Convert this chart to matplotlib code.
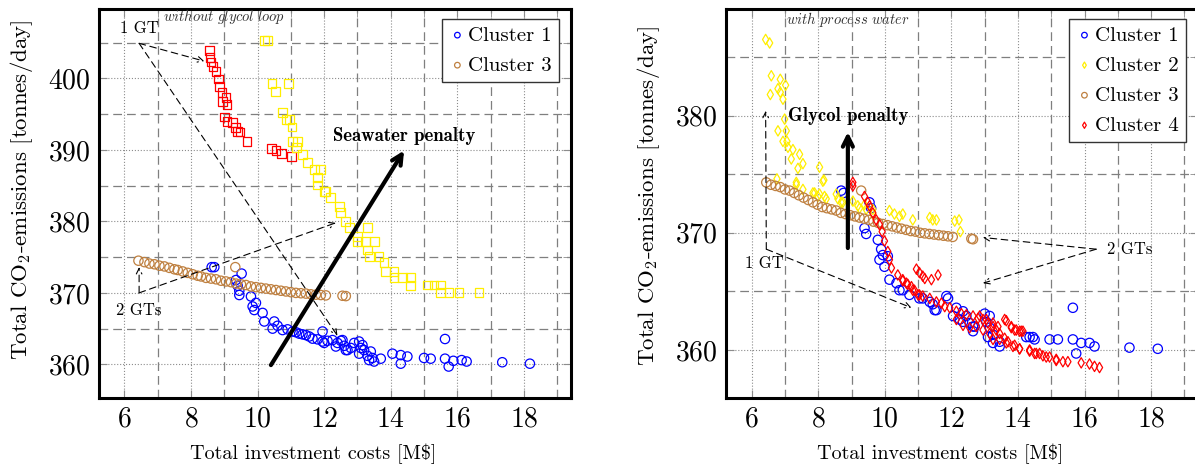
import matplotlib
matplotlib.use("Agg")
import matplotlib.pyplot as plt
from matplotlib.ticker import MultipleLocator
import numpy as np

plt.rcParams['font.family'] = ['cmr10', 'DejaVu Serif']
plt.rcParams['mathtext.fontset'] = 'cm'
plt.rcParams['axes.formatter.use_mathtext'] = True

BLUE = '#0000ff'
YELLOW = '#ffee00'
BROWN = '#bf8040'
RED = '#ff0000'

# ---- left panel: without glycol loop ----
left_c1 = [(8.62, 373.6), (8.70, 373.6), (9.52, 372.7), (9.35, 371.8), (9.40, 371.0), (9.45, 370.3),
           (9.45, 369.7), (9.80, 369.5), (9.85, 368.1), (9.95, 368.6), (9.90, 367.6), (10.15, 367.2),
           (10.2, 366.0), (10.5, 366.0), (10.45, 365.0), (10.6, 365.4), (10.75, 364.8), (10.9, 364.9),
           (11.05, 364.6), (11.15, 364.5), (11.25, 364.3), (11.35, 364.2), (11.45, 364.1), (11.55, 363.9),
           (11.65, 363.6), (11.8, 363.5), (11.95, 364.6), (11.95, 363.2), (12.0, 363.0), (12.1, 363.3),
           (12.25, 363.4), (12.35, 362.5), (12.4, 363.0), (12.5, 363.3), (12.55, 363.4), (12.6, 362.6),
           (12.65, 362.0), (12.7, 362.0), (12.8, 362.3), (12.9, 363.0), (13.05, 363.2), (13.05, 361.5),
           (13.1, 362.3), (13.15, 362.7), (13.2, 362.0), (13.3, 361.2), (13.35, 360.6), (13.4, 361.8),
           (13.45, 360.9), (13.5, 360.4), (13.7, 360.8), (14.05, 361.5), (14.3, 361.3), (14.5, 361.1),
           (14.3, 360.1), (15.0, 360.9), (15.2, 360.8), (15.63, 363.55), (15.63, 360.8), (15.74, 359.7),
           (15.88, 360.5), (16.13, 360.6), (16.28, 360.4), (17.35, 360.3), (18.18, 360.1)]

left_c3 = [(6.42, 374.5), (6.6, 374.3), (6.75, 374.1), (6.9, 374.0), (7.05, 373.8), (7.2, 373.7),
           (7.35, 373.5), (7.5, 373.3), (7.6, 373.2), (7.75, 373.0), (7.9, 372.8), (8.05, 372.6),
           (8.2, 372.4), (8.3, 372.3), (8.45, 372.1), (8.6, 372.0), (8.75, 371.9), (8.9, 371.7),
           (9.05, 371.6), (9.2, 371.5), (9.35, 371.3), (9.5, 371.2), (9.65, 371.1), (9.8, 370.9),
           (9.95, 370.8), (10.1, 370.7), (10.25, 370.6), (10.4, 370.5), (10.55, 370.4), (10.7, 370.3),
           (10.85, 370.2), (11.0, 370.1), (11.15, 370.0), (11.3, 369.95), (11.45, 369.9), (11.6, 369.8),
           (11.75, 369.75), (11.9, 369.7), (12.05, 369.65), (12.55, 369.6), (12.65, 369.55), (9.33, 373.6)]

left_red = [(8.55, 403.9), (8.57, 402.9), (8.6, 402.3), (8.66, 401.7), (8.75, 401.0), (8.83, 399.9),
            (8.85, 398.9), (8.93, 398.0), (9.05, 397.3), (8.95, 396.8), (9.08, 396.3), (9.0, 394.6),
            (9.08, 394.0), (9.25, 393.8), (9.33, 393.1), (9.4, 392.6), (9.47, 392.5), (9.68, 391.2),
            (10.42, 390.2), (10.55, 389.9), (10.72, 389.5), (11.02, 389.1)]

left_yellow = [(10.2, 405.3), (10.3, 405.3), (10.43, 399.3), (10.53, 398.2), (10.92, 399.3), (10.75, 395.2),
               (10.85, 394.3), (10.95, 394.3), (11.03, 393.2), (11.05, 391.2), (11.2, 391.2), (11.18, 390.3),
               (11.35, 389.4), (11.5, 388.2), (11.7, 387.3), (11.9, 387.3), (11.8, 386.1), (11.8, 385.1),
               (12.0, 384.2), (12.05, 384.2), (12.2, 383.3), (12.45, 382.1), (12.5, 381.2), (12.65, 380.0),
               (12.75, 379.1), (13.0, 377.9), (13.0, 377.2), (13.3, 379.1), (13.25, 377.2), (13.3, 376.0),
               (13.5, 377.2), (13.35, 375.1), (13.65, 375.1), (13.8, 374.2), (13.85, 373.0), (14.1, 373.0),
               (14.1, 372.1), (14.35, 372.1), (14.6, 372.1), (14.6, 371.0), (15.1, 371.1), (15.3, 371.1),
               (15.5, 371.1), (15.5, 370.0), (15.75, 370.0), (16.05, 370.0), (16.65, 370.0)]

# ---- right panel: with process water ----
right_c1 = [(8.69, 373.6), (8.76, 373.4), (9.54, 372.6), (9.59, 372.1), (9.39, 370.4), (9.44, 369.9),
            (9.79, 369.4), (9.89, 368.6), (9.94, 368.1), (9.84, 367.7), (9.99, 367.1), (10.09, 368.0),
            (10.14, 366.0), (10.35, 365.7), (10.44, 365.1), (10.54, 365.1), (10.74, 364.7), (11.04, 364.4),
            (11.14, 364.4), (11.35, 364.1), (11.44, 363.9), (11.5, 363.4), (11.55, 363.4), (11.85, 364.6),
            (11.9, 364.4), (12.05, 362.9), (12.15, 363.6), (12.25, 362.6), (12.35, 363.3), (12.35, 362.4),
            (12.45, 362.9), (12.55, 362.3), (12.65, 362.0), (12.7, 362.0), (12.65, 361.6), (13.0, 363.1),
            (13.05, 362.4), (13.1, 361.1), (13.15, 362.9), (13.15, 361.9), (13.25, 361.3), (13.25, 360.6),
            (13.45, 360.7), (13.45, 360.3), (14.25, 361.1), (14.35, 361.1), (14.45, 361.1), (14.5, 360.9),
            (14.95, 360.9), (15.2, 360.9), (15.65, 363.6), (15.65, 360.9), (15.75, 359.7), (15.9, 360.6),
            (16.15, 360.6), (16.3, 360.3), (17.35, 360.2), (18.2, 360.1)]

right_c2 = [(6.42, 386.5), (6.54, 386.2), (6.59, 383.4), (6.56, 381.8), (6.79, 382.3), (6.86, 383.1),
            (7.02, 382.6), (6.94, 381.4), (6.86, 382.0), (6.99, 379.7), (6.79, 378.7), (7.04, 378.7),
            (6.94, 377.8), (7.06, 377.8), (7.09, 377.3), (7.24, 377.1), (7.44, 376.7), (7.19, 376.3),
            (7.54, 375.9), (7.39, 375.5), (8.04, 375.6), (8.17, 374.5), (6.76, 374.6), (7.34, 374.3),
            (7.54, 373.7), (7.84, 373.4), (7.99, 373.1), (8.24, 372.9), (8.54, 373.3), (8.59, 372.9),
            (7.34, 374.1), (8.14, 374.4), (7.89, 373.4), (8.04, 373.3), (8.19, 373.1), (8.69, 372.6),
            (8.74, 372.6), (9.04, 372.7), (9.19, 372.3), (9.24, 372.1), (9.39, 372.4), (9.44, 372.0),
            (9.64, 372.0), (9.64, 371.6), (10.14, 371.9), (10.29, 371.6), (10.44, 371.4), (10.54, 371.6),
            (10.84, 371.1), (11.35, 371.3), (11.44, 371.1), (11.55, 371.1), (12.1, 371.0), (12.23, 371.1),
            (12.27, 370.1)]

right_c3 = [(6.44, 374.3), (6.58, 374.1), (6.72, 374.0), (6.86, 373.9), (7.0, 373.7), (7.14, 373.6),
            (7.28, 373.4), (7.42, 373.2), (7.56, 373.0), (7.7, 372.8), (7.84, 372.6), (7.98, 372.4),
            (8.12, 372.2), (8.26, 372.1), (8.4, 372.0), (8.54, 371.9), (8.68, 371.7), (8.82, 371.6),
            (8.96, 371.5), (9.1, 371.4), (9.24, 371.3), (9.38, 371.2), (9.52, 371.1), (9.66, 370.95),
            (9.8, 370.85), (9.94, 370.75), (10.08, 370.65), (10.22, 370.55), (10.36, 370.45), (10.5, 370.35),
            (10.64, 370.25), (10.78, 370.15), (10.92, 370.1), (11.06, 370.0), (11.2, 369.95), (11.34, 369.9),
            (11.48, 369.85), (11.62, 369.8), (11.76, 369.75), (11.9, 369.7), (12.04, 369.65), (12.6, 369.5),
            (12.65, 369.45), (9.29, 373.6)]

right_c4 = [(9.04, 374.3), (9.04, 374.0), (9.39, 373.1), (9.49, 372.6), (9.54, 372.3), (9.64, 371.7),
            (9.74, 371.1), (9.84, 370.7), (9.92, 370.1), (9.99, 369.3), (10.09, 368.4), (10.14, 367.7),
            (10.2, 367.0), (10.39, 366.4), (10.54, 366.0), (10.65, 365.7), (10.8, 365.4), (10.89, 365.1),
            (11.04, 364.7), (10.95, 366.9), (11.04, 366.6), (11.14, 366.3), (11.2, 366.1), (11.4, 366.0),
            (11.6, 366.4), (10.54, 365.9), (10.69, 365.6), (10.84, 365.1), (11.0, 364.7), (11.14, 364.6),
            (11.35, 364.4), (11.55, 364.1), (11.7, 364.0), (11.8, 363.7), (11.95, 363.6), (12.15, 363.3),
            (12.3, 363.1), (12.45, 363.0), (12.65, 362.9), (12.8, 362.7), (12.95, 362.6), (13.1, 362.3),
            (13.25, 362.0), (13.35, 361.7), (13.45, 361.4), (13.6, 361.0), (13.7, 360.7), (13.9, 360.4),
            (14.05, 360.1), (14.35, 359.9), (14.55, 359.7), (14.75, 359.5), (14.95, 359.4), (15.15, 359.2),
            (12.15, 362.6), (12.35, 362.1), (12.55, 361.9), (12.75, 362.0), (12.95, 361.7), (13.15, 361.4),
            (13.25, 360.9), (13.65, 362.5), (13.8, 361.9), (13.95, 361.7), (14.1, 361.6), (12.85, 362.9),
            (13.05, 362.6), (13.25, 362.3), (13.4, 362.0), (13.6, 362.6), (13.8, 362.0), (13.9, 361.7),
            (14.05, 361.6), (14.15, 361.6), (13.45, 360.9), (13.65, 360.6), (13.85, 360.3), (14.05, 360.1),
            (14.35, 360.0), (14.5, 359.7), (14.65, 359.7), (14.85, 359.4), (15.15, 359.1), (15.35, 359.0),
            (15.5, 359.0), (15.9, 358.9), (16.15, 358.8), (16.3, 358.6), (16.45, 358.5)]

xticks = [6, 8, 10, 12, 14, 16, 18]
left_yticks = [360, 370, 380, 390, 400]
right_yticks = [360, 370, 380]


def xy(pts):
    a = np.array(pts)
    return a[:, 0], a[:, 1]


def style_axes(ax, ylim, yticks, ylab_y):
    ax.set_xlim(5.22, 19.4)
    ax.set_ylim(*ylim)
    ax.set_xticks(xticks)
    ax.set_yticks(yticks)
    ax.xaxis.set_minor_locator(MultipleLocator(1))
    ax.yaxis.set_minor_locator(MultipleLocator(5))
    ax.grid(which='major', color='#8c8c8c', ls=':', lw=0.8)
    ax.grid(which='minor', color='#7f7f7f', ls=(0, (7, 4)), lw=0.9)
    ax.set_axisbelow(True)
    ax.tick_params(which='both', direction='in', top=True, right=True, color='#8c8c8c')
    ax.tick_params(which='major', length=6, labelsize=20, pad=6)
    ax.tick_params(which='minor', length=6)
    for s in ax.spines.values():
        s.set_linewidth(2.2)
    ax.set_xlabel('Total investment costs [M\\$]', fontsize=14.5)
    ax.set_ylabel('Total CO$_2$-emissions [tonnes/day]', fontsize=16.5)
    ax.xaxis.set_label_coords(0.455, -0.118)
    ax.yaxis.set_label_coords(-0.135, ylab_y)


fig = plt.figure(figsize=(11.95, 4.66), dpi=100)
ax1 = fig.add_axes([98.5 / 1195, 68 / 466, 472 / 1195, 389 / 466])
ax2 = fig.add_axes([725.7 / 1195, 68 / 466, 472 / 1195, 389 / 466])

leg_kw = dict(loc='upper right', fontsize=15, handletextpad=0.1, handlelength=0.8, borderpad=0.35,
              labelspacing=0.55, fancybox=False, framealpha=1, edgecolor='#333333', markerscale=0.6,
              bbox_to_anchor=(0.975, 0.975), borderaxespad=0)
dash = dict(arrowstyle='->', ls=(0, (6, 4)), lw=0.8, color='black', shrinkA=0, shrinkB=0)
thick = dict(arrowstyle='->', lw=3, color='black', shrinkA=0, shrinkB=0, mutation_scale=18)

#PLOT 1
x, y = xy(left_red)
ax1.scatter(x, y, marker='s', s=40, facecolors='none', edgecolors=RED, linewidths=0.9, zorder=3)
x, y = xy(left_yellow)
ax1.scatter(x, y, marker='s', s=40, facecolors='none', edgecolors=YELLOW, linewidths=0.9, zorder=3)
x, y = xy(left_c1)
ax1.scatter(x, y, marker='o', s=45, facecolors='none', edgecolors=BLUE, linewidths=0.9, zorder=3, label='Cluster 1')
x, y = xy(left_c3)
ax1.scatter(x, y, marker='o', s=45, facecolors='none', edgecolors=BROWN, linewidths=0.9, zorder=3, label='Cluster 3')
style_axes(ax1, (355.3, 409.7), left_yticks, 0.535)

ax1.text(6.45, 407.0, '1 GT', fontsize=12, ha='center', va='center', zorder=5)
ax1.annotate('', xy=(8.4, 402.4), xytext=(6.44, 404.9), arrowprops=dash, zorder=5)
ax1.annotate('', xy=(12.4, 364.0), xytext=(6.44, 404.9), arrowprops=dash, zorder=5)
ax1.text(6.44, 367.5, '2 GTs', fontsize=12, ha='center', va='center', zorder=5)
ax1.annotate('', xy=(6.44, 373.6), xytext=(6.44, 370.0), arrowprops=dash, zorder=5)
ax1.annotate('', xy=(12.35, 379.8), xytext=(6.44, 370.0), arrowprops=dash, zorder=5)
ax1.annotate('', xy=(14.4, 389.9), xytext=(10.4, 359.9), arrowprops=thick, zorder=6)
ax1.text(14.4, 392.0, 'Seawater penalty', fontsize=13.5, family='cmb10', ha='center', va='center', zorder=6)
ax1.text(9.0, 408.6, '$\\mathit{without\\ glycol\\ loop}$', fontsize=10.5, ha='center', va='center',
         color='#333333', zorder=6)
ax1.legend(**leg_kw)

#PLOT 2
x, y = xy(right_c1)
ax2.scatter(x, y, marker='o', s=45, facecolors='none', edgecolors=BLUE, linewidths=0.9, zorder=3, label='Cluster 1')
x, y = xy(right_c2)
ax2.scatter(x, y, marker='d', s=28, facecolors='none', edgecolors=YELLOW, linewidths=0.9, zorder=3, label='Cluster 2')
x, y = xy(right_c3)
ax2.scatter(x, y, marker='o', s=45, facecolors='none', edgecolors=BROWN, linewidths=0.9, zorder=3, label='Cluster 3')
x, y = xy(right_c4)
ax2.scatter(x, y, marker='d', s=28, facecolors='none', edgecolors=RED, linewidths=0.9, zorder=3, label='Cluster 4')
style_axes(ax2, (355.9, 389.1), right_yticks, 0.52)

ax2.text(6.39, 367.4, '1 GT', fontsize=12, ha='center', va='center', zorder=5)
ax2.annotate('', xy=(6.42, 380.4), xytext=(6.44, 368.6), arrowprops=dash, zorder=5)
ax2.annotate('', xy=(10.8, 363.6), xytext=(6.44, 368.6), arrowprops=dash, zorder=5)
ax2.text(17.35, 368.6, '2 GTs', fontsize=12, ha='center', va='center', zorder=5)
ax2.annotate('', xy=(12.95, 369.6), xytext=(16.35, 368.6), arrowprops=dash, zorder=5)
ax2.annotate('', xy=(12.95, 365.7), xytext=(16.35, 368.6), arrowprops=dash, zorder=5)
ax2.annotate('', xy=(8.89, 378.6), xytext=(8.89, 368.7), arrowprops=thick, zorder=6)
ax2.text(8.89, 380.0, 'Glycol penalty', fontsize=13.5, family='cmb10', ha='center', va='center', zorder=6)
ax2.text(8.89, 388.2, '$\\mathit{with\\ process\\ water}$', fontsize=10.5, ha='center', va='center',
         color='#333333', zorder=6)
ax2.legend(**leg_kw)

fig.savefig('out.png', dpi=100)
